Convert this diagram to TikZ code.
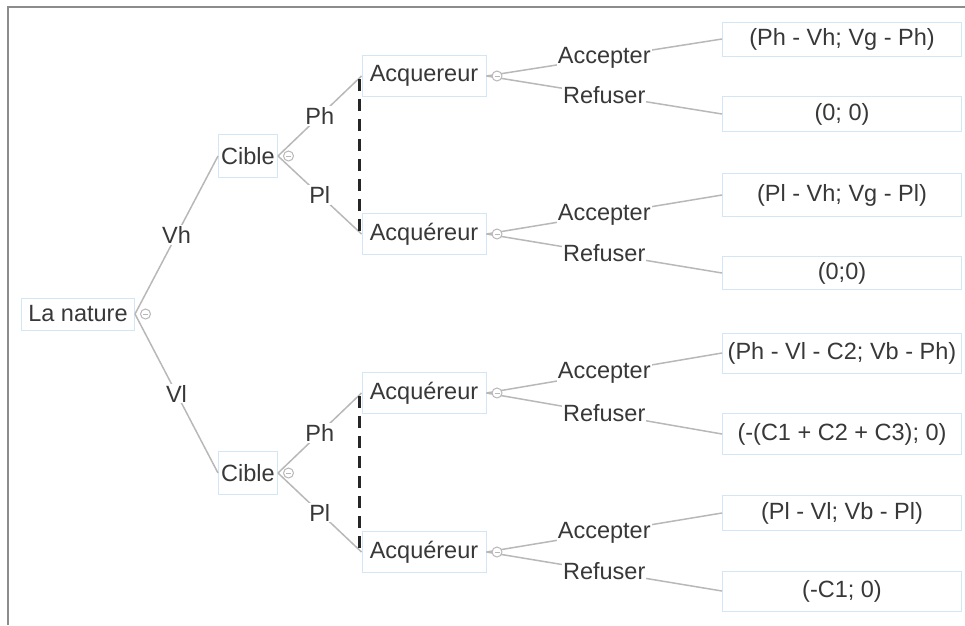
\documentclass[tikz,border=0pt]{standalone}
\usepackage{fontspec}
\setmainfont{Liberation Sans}
\definecolor{boxblue}{HTML}{D2E6F6}
\definecolor{edgegray}{HTML}{B8B8B8}
\definecolor{txtgray}{HTML}{383838}
\definecolor{framegray}{HTML}{8C8C8C}
\tikzset{
  box/.style={draw=boxblue, line width=1pt, fill=white, text=txtgray, inner sep=0pt, minimum height=38pt},
  branch/.style={draw=edgegray, line width=1.5pt},
  choice/.style={fill=white, text=txtgray, inner sep=1pt},
  fold/.style={circle, draw=edgegray, fill=white, line width=1pt, minimum size=10pt, inner sep=0pt},
  infoset/.style={draw=black!85, line width=2.2pt, dash pattern=on 12pt off 8pt}
}
\begin{document}
\begin{tikzpicture}[x=1pt, y=-1pt, font=\fontsize{23.5}{28}\selectfont]
    \useasboundingbox (0,0) rectangle (965,625);
    \draw[framegray, line width=2pt] (8,625) -- (8,7) -- (965,7);
    % players
    \node[box, minimum width=113pt, minimum height=32pt] (nature) at (78,314) {La nature};
    \node[box, minimum width=59pt, minimum height=43pt] (cibleH) at (248,156) {Cible};
    \node[box, minimum width=59pt, minimum height=43pt] (cibleL) at (248,473) {Cible};
    \node[box, minimum width=124pt, minimum height=41pt] (acq1) at (424,76) {Acquereur};
    \node[box, minimum width=124pt, minimum height=41pt] (acq2) at (424,234) {Acquéreur};
    \node[box, minimum width=124pt, minimum height=41pt] (acq3) at (424,393) {Acquéreur};
    \node[box, minimum width=124pt, minimum height=41pt] (acq4) at (424,552) {Acquéreur};
    % payoffs
    \node[box, minimum width=239pt, minimum height=34pt] (pay1) at (842,39) {(Ph - Vh; Vg - Ph)};
    \node[box, minimum width=239pt, minimum height=35pt] (pay2) at (842,114) {(0; 0)};
    \node[box, minimum width=239pt, minimum height=43pt] (pay3) at (842,195) {(Pl - Vh; Vg - Pl)};
    \node[box, minimum width=239pt, minimum height=33pt] (pay4) at (842,273) {(0;0)};
    \node[box, minimum width=239pt, minimum height=40pt] (pay5) at (842,353) {(Ph - Vl - C2; Vb - Ph)};
    \node[box, minimum width=239pt, minimum height=41pt] (pay6) at (842,434) {(-(C1 + C2 + C3); 0)};
    \node[box, minimum width=239pt, minimum height=35pt] (pay7) at (842,513) {(Pl - Vl; Vb - Pl)};
    \node[box, minimum width=239pt, minimum height=40pt] (pay8) at (842,591) {(-C1; 0)};
    % branches
    \draw[branch] (nature.east) -- node[choice] {Vh} (cibleH.west);
    \draw[branch] (nature.east) -- node[choice] {Vl} (cibleL.west);
    \draw[branch] (cibleH.east) -- node[choice] {Ph} (acq1.west);
    \draw[branch] (cibleH.east) -- node[choice] {Pl} (acq2.west);
    \draw[branch] (cibleL.east) -- node[choice] {Ph} (acq3.west);
    \draw[branch] (cibleL.east) -- node[choice] {Pl} (acq4.west);
    \foreach \a/\p/\q in {acq1/pay1/pay2, acq2/pay3/pay4, acq3/pay5/pay6, acq4/pay7/pay8}{
        \draw[branch] (\a.east) -- node[choice] {Accepter} (\p.west);
        \draw[branch] (\a.east) -- node[choice] {Refuser} (\q.west);
    }
    % collapse buttons
    \foreach \n in {nature, cibleH, cibleL, acq1, acq2, acq3, acq4}{
        \node[fold] (\n-fold) at ([xshift=10.5pt]\n.east) {};
        \draw[edgegray, line width=0.9pt] ([xshift=-2.5pt]\n-fold.center) -- ([xshift=2.5pt]\n-fold.center);
    }
    % information sets
    \draw[infoset] ([xshift=-2pt, yshift=-3pt]acq1.west) -- ([xshift=-2pt, yshift=2pt]acq2.west);
    \draw[infoset] ([xshift=-2pt, yshift=-3pt]acq3.west) -- ([xshift=-2pt, yshift=2pt]acq4.west);
\end{tikzpicture}
\end{document}
